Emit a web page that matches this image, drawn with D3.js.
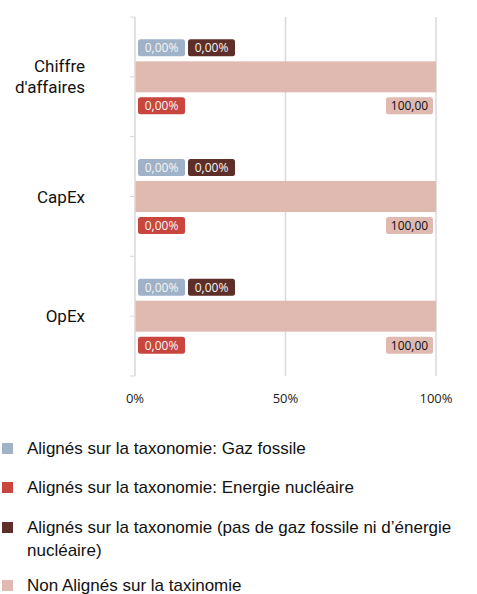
<!DOCTYPE html>
<html>
<head>
<meta charset="utf-8">
<script src="https://cdn.jsdelivr.net/npm/d3@7"></script>
<style>
  body { margin: 0; background: #fff; }
  svg { display: block; }
</style>
</head>
<body>
<svg id="chart" width="477" height="594"></svg>
<script>
// categories and series (percent of total)
var categories = [["Chiffre", "d'affaires"], ["CapEx"], ["OpEx"]];
var seriesNames = [
  "Alignés sur la taxonomie: Gaz fossile",
  "Alignés sur la taxonomie: Energie nucléaire",
  "Alignés sur la taxonomie (pas de gaz fossile ni d’énergie nucléaire)",
  "Non Alignés sur la taxinomie"
];
var gazFossile = [0, 0, 0];
var nucleaire = [0, 0, 0];
var alignesAutres = [0, 0, 0];
var nonAlignes = [100, 100, 100];
var labelsGaz = ["0,00%", "0,00%", "0,00%"];
var labelsNucl = ["0,00%", "0,00%", "0,00%"];
var labelsAutres = ["0,00%", "0,00%", "0,00%"];
var labelsNon = ["100,00", "100,00", "100,00"];
var xTicks = [0, 50, 100];

var colors = ["#9fb2c7", "#c9463f", "#5d2f28", "#e0b9b0"];

var svg = d3.select('#chart');
var margin = {top: 17, left: 135, right: 41},
    plotH = 359,
    width = 477 - margin.left - margin.right;

var x = d3.scaleLinear().domain([0, 100]).range([0, width]);
var y = d3.scaleBand().domain(d3.range(categories.length)).range([0, plotH]);

var g = svg.append('g')
    .attr('transform', 'translate(' + margin.left + ',' + margin.top + ')');

// gridlines
g.selectAll('.grid').data(xTicks.slice(1)).enter().append('line')
    .attr('x1', function(d) { return x(d); })
    .attr('x2', function(d) { return x(d); })
    .attr('y1', 0).attr('y2', plotH)
    .style('stroke', '#d9d9d9')
    .style('stroke-width', 1.5);

// stacked data
var rows = categories.map(function(c, i) {
  return [gazFossile[i], nucleaire[i], alignesAutres[i], nonAlignes[i]];
});

var barH = 31;
rows.forEach(function(vals, i) {
  var cy = y(i) + y.bandwidth() / 2;
  var acc = 0;
  vals.forEach(function(v, s) {
    g.append('rect')
        .attr('x', x(acc))
        .attr('y', cy - barH / 2)
        .attr('width', x(acc + v) - x(acc))
        .attr('height', barH)
        .style('fill', colors[s]);
    acc += v;
  });
});

// vertical axis
g.append('line')
    .attr('x1', 0).attr('x2', 0).attr('y1', 0).attr('y2', plotH)
    .style('stroke', '#d9d9d9').style('stroke-width', 1.5);

var tickYs = [];
categories.forEach(function(c, i) {
  tickYs.push(y(i));
  tickYs.push(y(i) + y.bandwidth() / 2);
});
tickYs.push(plotH);
g.selectAll('.ytick').data(tickYs).enter().append('line')
    .attr('x1', -5).attr('x2', 0)
    .attr('y1', function(d) { return d; })
    .attr('y2', function(d) { return d; })
    .style('stroke', '#d9d9d9').style('stroke-width', 1);

// category labels
categories.forEach(function(lines, i) {
  var cy = y(i) + y.bandwidth() / 2;
  var t = g.append('text')
      .attr('text-anchor', 'end')
      .style('font-family', 'Roboto, sans-serif')
      .style('font-size', '17px')
      .style('fill', '#111');
  lines.forEach(function(line, k) {
    t.append('tspan')
        .attr('x', -50)
        .attr('y', cy + 6 + (k - (lines.length - 1) / 2) * 21)
        .text(line);
  });
});

// x tick labels
g.selectAll('.xlabel').data(xTicks).enter().append('text')
    .attr('x', function(d) { return x(d); })
    .attr('y', plotH + 27)
    .attr('text-anchor', 'middle')
    .style('font-family', 'Open Sans, sans-serif')
    .style('font-size', '13px')
    .style('fill', '#222')
    .text(function(d) { return d + '%'; });

// data labels
function dataLabel(xLeft, yTop, text, fill, textFill) {
  var w = 47, h = 17;
  g.append('rect')
      .attr('x', xLeft).attr('y', yTop)
      .attr('width', w).attr('height', h)
      .attr('rx', 2.5)
      .style('fill', fill);
  g.append('text')
      .attr('x', xLeft + w / 2)
      .attr('y', yTop + 13)
      .attr('text-anchor', 'middle')
      .style('font-family', 'Open Sans, sans-serif')
      .style('font-size', '12px')
      .style('fill', textFill)
      .text(text);
}

rows.forEach(function(vals, i) {
  var cy = y(i) + y.bandwidth() / 2;
  var top = cy - barH / 2;
  var bottom = cy + barH / 2;
  dataLabel(x(0) + 3, top - 22, labelsGaz[i], colors[0], '#f4f4f4');
  dataLabel(x(0) + 53, top - 22, labelsAutres[i], colors[2], '#f4f4f4');
  dataLabel(x(0) + 3, bottom + 5, labelsNucl[i], colors[1], '#f4f4f4');
  dataLabel(x(100) - 50, bottom + 5, labelsNon[i], colors[3], '#111');
});

// legend
var legendRows = [
  {s: 0, lines: [seriesNames[0]], y: 448},
  {s: 1, lines: [seriesNames[1]], y: 487},
  {s: 2, lines: ["Alignés sur la taxonomie (pas de gaz fossile ni d’énergie", "nucléaire)"], y: 527},
  {s: 3, lines: [seriesNames[3]], y: 585}
];
var legend = svg.append('g');
legendRows.forEach(function(r) {
  legend.append('rect')
      .attr('x', 2).attr('y', r.y - 5)
      .attr('width', 11).attr('height', 11)
      .style('fill', colors[r.s]);
  r.lines.forEach(function(line, k) {
    legend.append('text')
        .attr('x', 27)
        .attr('y', r.y + 6 + k * 23)
        .style('font-family', 'Liberation Sans, Arial, sans-serif')
        .style('font-size', '17px')
        .style('fill', '#111')
        .text(line);
  });
});
</script>
</body>
</html>
